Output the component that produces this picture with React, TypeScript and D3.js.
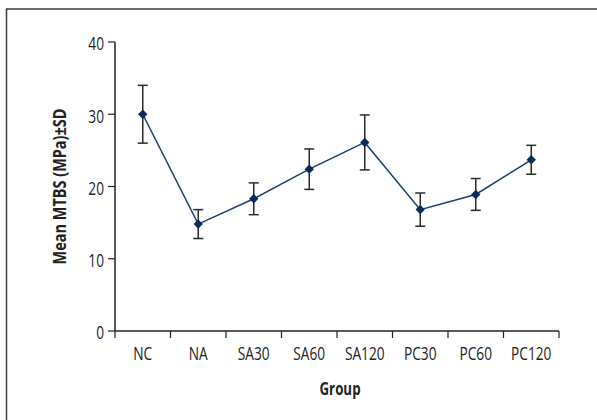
import React from 'react';
import * as d3 from 'd3';

const groups = ['NC', 'NA', 'SA30', 'SA60', 'SA120', 'PC30', 'PC60', 'PC120'];
const means = [30, 14.8, 18.3, 22.4, 26.1, 16.8, 18.9, 23.7];
const sds = [4.0, 2.0, 2.2, 2.8, 3.8, 2.3, 2.2, 2.0];
const yTicks = [0, 10, 20, 30, 40];

const W = 597;
const H = 420;
const margin = { top: 42, right: 38, bottom: 89, left: 115 };

const font = "'Open Sans', 'DejaVu Sans', sans-serif";
const SX = 0.74; // squeeze text to look like a condensed face

// condensed text helper
const CText = ({ x, y, anchor = 'middle', size = 18.5, bold = false, dy = '0', children }: any) => (
    <text transform={`translate(${x},${y}) scale(${SX},1)`} textAnchor={anchor} dy={dy}
        fontFamily={font} fontSize={size} fontWeight={bold ? 'bold' : 'normal'} fill="#222">
        {children}
    </text>
);

const App = () => {
    const x = d3.scaleBand<string>()
        .domain(groups)
        .range([margin.left, W - margin.right])
        .paddingInner(0)
        .paddingOuter(0);

    const y = d3.scaleLinear()
        .domain([0, 40])
        .range([H - margin.bottom, margin.top]);

    const cx = (g: string) => (x(g) ?? 0) + x.bandwidth() / 2;

    const line = d3.line<number>()
        .x((_, i) => cx(groups[i]))
        .y(d => y(d));

    const diamond = d3.symbol().type(d3.symbolDiamond2).size(56)();

    const bottom = y(0);
    const boundaries = groups.map(g => x(g) ?? 0).concat([W - margin.right]);

    return (
        <svg width={W} height={H} style={{ position: 'absolute', left: 0, top: 0, background: '#fff' }}>
            {/* frame */}
            <rect x={6.5} y={9} width={W + 10} height={H + 10} fill="none" stroke="#3a3a3a" strokeWidth={1.5} />

            {/* y axis */}
            <line x1={margin.left} x2={margin.left} y1={y(40)} y2={bottom} stroke="#222" strokeWidth={1.5} />
            {yTicks.map(t => (
                <g key={t}>
                    <line x1={margin.left - 7} x2={margin.left} y1={y(t)} y2={y(t)} stroke="#222" strokeWidth={1.2} />
                    <CText x={margin.left - 11} y={y(t)} anchor="end" dy="0.45em">{t}</CText>
                </g>
            ))}

            {/* x axis */}
            <line x1={margin.left} x2={W - margin.right} y1={bottom} y2={bottom} stroke="#222" strokeWidth={1.5} />
            {boundaries.map((b, i) => (
                <line key={i} x1={b} x2={b} y1={bottom} y2={bottom + 7} stroke="#222" strokeWidth={1.2} />
            ))}
            {groups.map(g => (
                <CText key={g} x={cx(g)} y={bottom + 29}>{g}</CText>
            ))}

            {/* axis titles */}
            <CText x={340} y={395} size={18} bold>Group</CText>
            <text transform={`translate(66,${(y(0) + y(40)) / 2}) rotate(-90)`} textAnchor="middle"
                fontFamily={font} fontSize={18} fontWeight="bold" fill="#222"
                textLength={156} lengthAdjust="spacingAndGlyphs">Mean MTBS (MPa)±SD</text>

            {/* error bars */}
            {groups.map((g, i) => {
                const px = cx(g);
                const hi = y(means[i] + sds[i]);
                const lo = y(means[i] - sds[i]);
                return (
                    <g key={g} stroke="#2b2b2b" strokeWidth={1.5}>
                        <line x1={px} x2={px} y1={hi} y2={lo} />
                        <line x1={px - 5} x2={px + 5} y1={hi} y2={hi} />
                        <line x1={px - 5} x2={px + 5} y1={lo} y2={lo} />
                    </g>
                );
            })}

            {/* mean line */}
            <path d={line(means) ?? ''} fill="none" stroke="#1b3f70" strokeWidth={1.5} />
            {groups.map((g, i) => (
                <path key={g} d={diamond ?? ''} transform={`translate(${cx(g)},${y(means[i])})`} fill="#0a2b5a" />
            ))}
        </svg>
    );
};

export default App;
